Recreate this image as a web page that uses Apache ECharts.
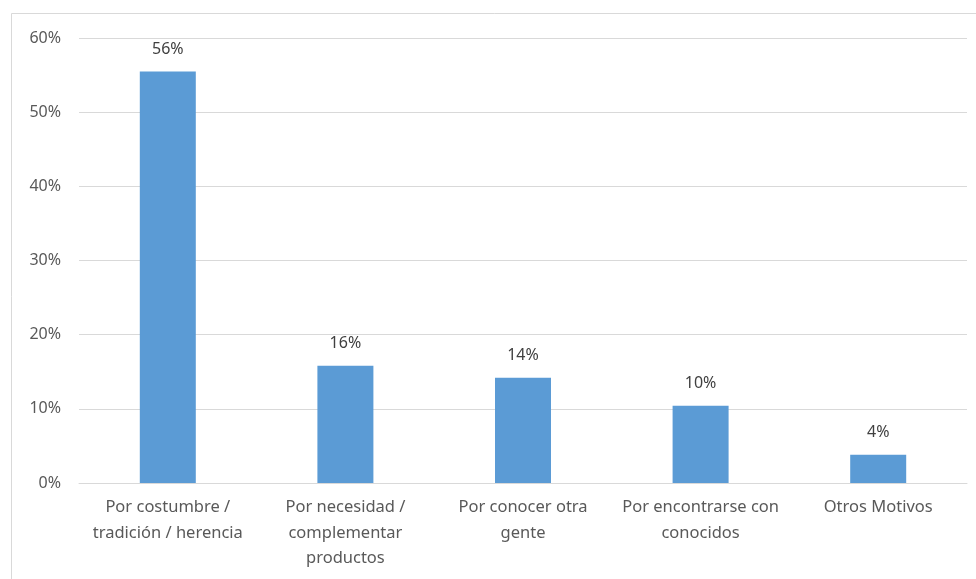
<!DOCTYPE html>
<html>
<head>
<meta charset="utf-8">
<script src="https://cdn.jsdelivr.net/npm/echarts@6/dist/echarts.min.js"></script>
<style>
  html, body { margin: 0; padding: 0; background: #ffffff; }
  #chart { width: 976px; height: 579px; }
</style>
</head>
<body>
<div id="chart"></div>
<script>
// Motivos de asistencia (porcentaje de respuestas)
const categories = [
  'Por costumbre /\ntradición / herencia',
  'Por necesidad /\ncomplementar\nproductos',
  'Por conocer otra\ngente',
  'Por encontrarse con\nconocidos',
  'Otros Motivos'
];
const values = [55.5, 15.8, 14.2, 10.4, 3.8];
const yTicks = { min: 0, max: 60, interval: 10 };

const textColor = '#595959';
const lineColor = '#d9d9d9';
const fontFamily = '"Noto Sans", "Open Sans", sans-serif';

const chart = echarts.init(document.getElementById('chart'), null, { renderer: 'canvas' });
chart.setOption({
  animation: false,
  backgroundColor: '#ffffff',
  textStyle: { fontFamily: fontFamily },
  graphic: [{
    type: 'rect',
    shape: { x: 11.5, y: 13.5, width: 1000, height: 1000 },
    style: { fill: 'none', stroke: lineColor, lineWidth: 1 },
    silent: true
  }],
  grid: { left: 79, right: 9, top: 38, bottom: 96, containLabel: false },
  xAxis: {
    type: 'category',
    data: categories,
    axisLine: { show: true, lineStyle: { color: lineColor, width: 1 } },
    axisTick: { show: false },
    axisLabel: {
      color: textColor,
      fontSize: 16.5,
      lineHeight: 25.5,
      margin: 12,
      interval: 0,
      fontFamily: fontFamily
    }
  },
  yAxis: {
    type: 'value',
    min: yTicks.min,
    max: yTicks.max,
    interval: yTicks.interval,
    axisLine: { show: false },
    axisTick: { show: false },
    splitLine: { lineStyle: { color: lineColor, width: 1 } },
    axisLabel: {
      color: textColor,
      fontSize: 16,
      margin: 18,
      formatter: v => v + '%',
      fontFamily: fontFamily
    }
  },
  series: [{
    type: 'bar',
    data: values,
    barWidth: 56,
    itemStyle: { color: '#5b9bd5' },
    label: {
      show: true,
      position: 'top',
      distance: 14,
      color: '#404040',
      fontSize: 16,
      fontFamily: fontFamily,
      formatter: p => Math.round(p.value) + '%'
    }
  }]
});
</script>
</body>
</html>
